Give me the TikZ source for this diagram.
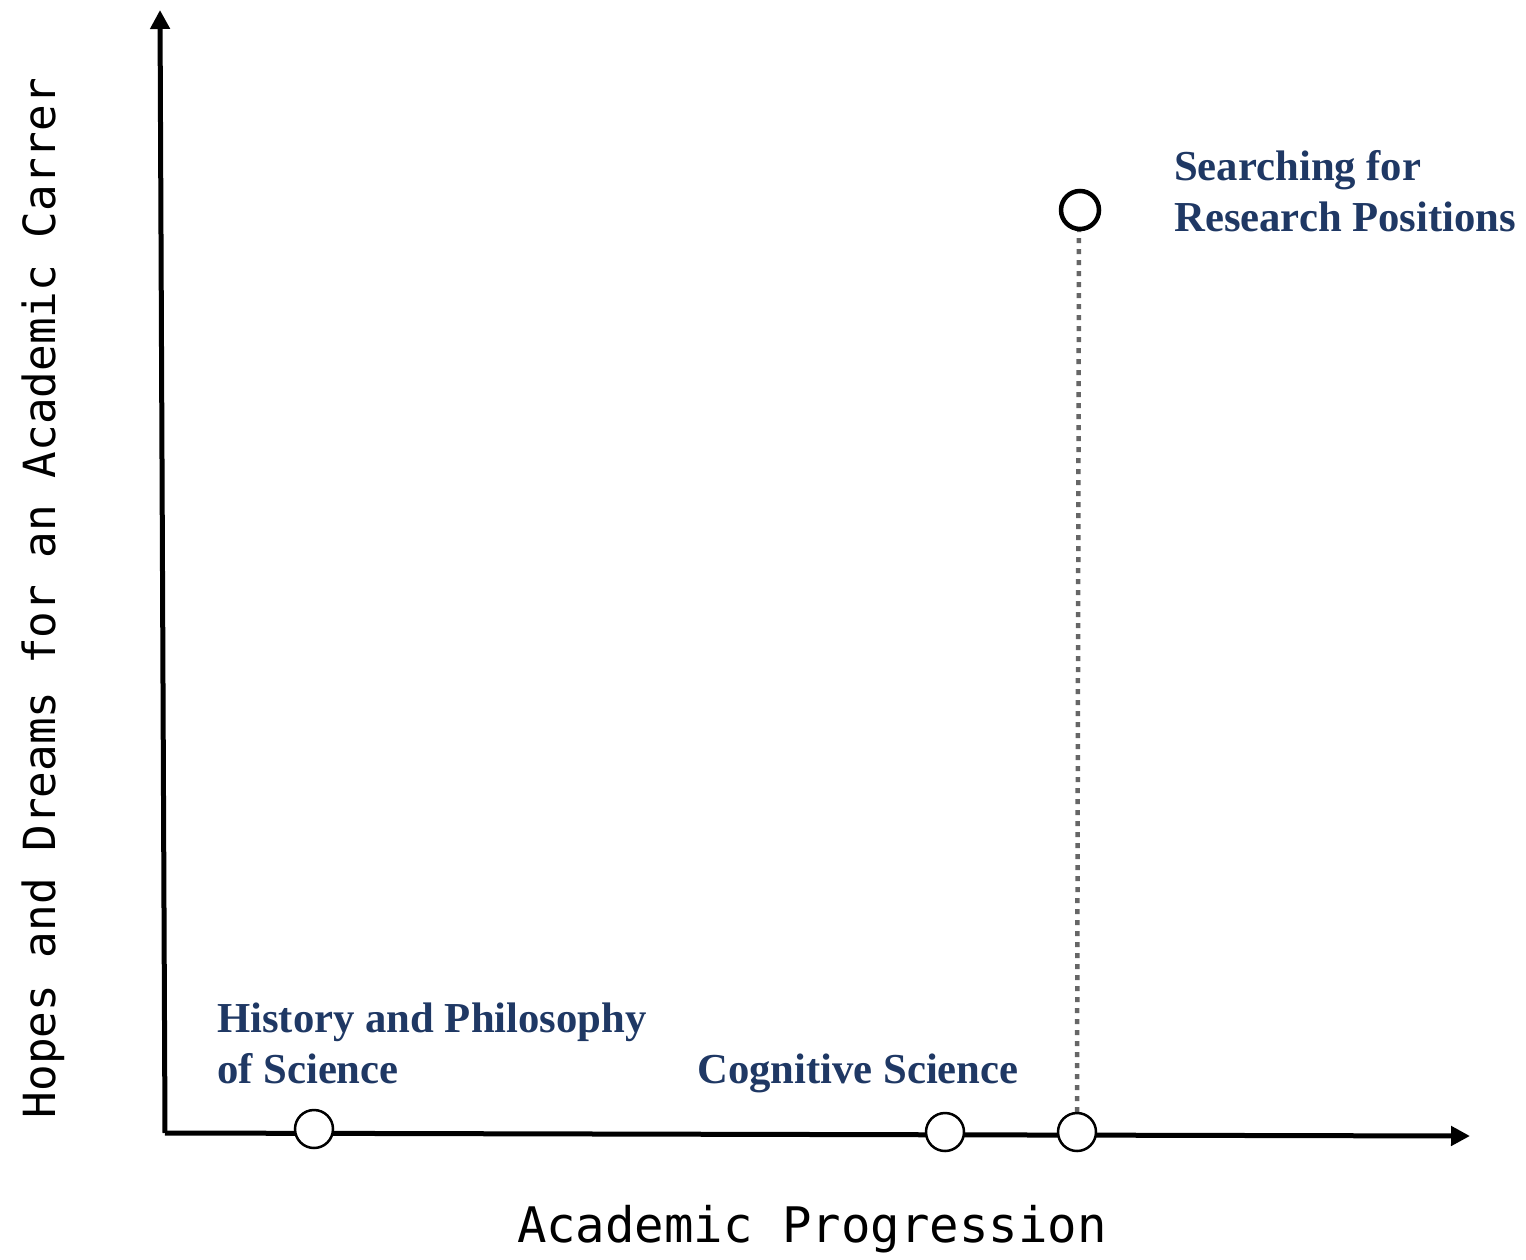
\documentclass[tikz,border=0pt]{standalone}
\usepackage{fontspec}
\setmainfont{Liberation Serif}
\newfontfamily\monof{DejaVu Sans Mono}
\usetikzlibrary{arrows.meta}
\definecolor{labblue}{HTML}{1F3864}
\definecolor{dotgray}{HTML}{666666}
\begin{document}
\begin{tikzpicture}[x=1pt,y=-1pt,
  axis/.style={line width=5pt,-{Triangle[length=19pt,width=19pt]}},
  dotc/.style={circle,draw,line width=2.5pt,fill=white,minimum size=38pt,inner sep=0pt},
  topc/.style={circle,draw,line width=4.5pt,fill=white,minimum size=38pt,inner sep=0pt},
  lab/.style={font=\fontsize{42.7}{51}\selectfont\bfseries,text=labblue,align=left,anchor=base west,inner sep=0pt}]
\useasboundingbox (0,0) rectangle (1526,1259);
\coordinate (o) at (165,1133);
\coordinate (ytop) at (160,10);
\coordinate (xend) at (1470,1136);
\coordinate (dl) at (1077,1112);
\coordinate (dh) at (1079,230);
\draw[dotgray,line width=4.5pt,dash pattern=on 5pt off 6pt] (dl) -- (dh);
\draw[axis] (o) -- (ytop);
\draw[axis] (o) -- (xend);
\node[dotc] (c1) at (314,1129) {};
\node[dotc] (c2) at (945,1132) {};
\node[dotc] (c3) at (1077,1132) {};
\node[topc] (c4) at (1080,210) {};
\node[lab] (t1) at (217,1083) {History and Philosophy\\of Science};
\node[lab] (t2) at (697,1083) {Cognitive Science};
\node[lab] (t3) at (1174,231) {Searching for\\Research Positions};
\node[font=\monof\fontsize{49}{50}\selectfont,anchor=base,inner sep=0pt] (xl) at (812,1242) {Academic Progression};
\node[font=\monof\fontsize{44.3}{46}\selectfont,rotate=90,anchor=base,inner sep=0pt] (yl) at (55,598) {Hopes and Dreams for an Academic Carrer};
\end{tikzpicture}
\end{document}
